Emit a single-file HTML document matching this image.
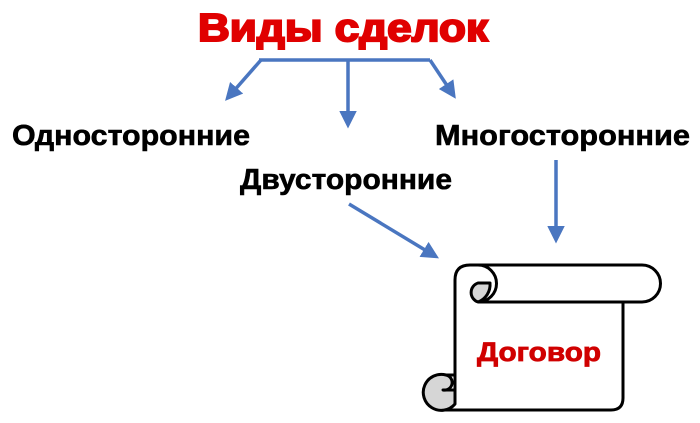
<!DOCTYPE html>
<html><head><meta charset="utf-8"><style>
html,body{margin:0;padding:0;background:#fff;}
svg{display:block;}
text{font-family:"Liberation Sans",Arial,sans-serif;font-weight:bold;}
</style></head><body>
<svg width="700" height="423" viewBox="0 0 700 423" xmlns="http://www.w3.org/2000/svg">
<defs>
<marker id="ah" markerWidth="5" markerHeight="5" refX="2" refY="2.5" orient="auto" markerUnits="strokeWidth">
<path d="M0,0 L5,2.5 L0,5 Z" fill="#4a76c0"/>
</marker>
</defs>
<text x="198" y="41" font-size="39" fill="#e00000" stroke="#e00000" stroke-width="2" textLength="290" lengthAdjust="spacingAndGlyphs">Виды сделок</text>
<text x="12" y="145" font-size="29" fill="#000" stroke="#000" stroke-width="0.6" textLength="238" lengthAdjust="spacingAndGlyphs">Односторонние</text>
<text x="435" y="145" font-size="29" fill="#000" stroke="#000" stroke-width="0.6" textLength="255" lengthAdjust="spacingAndGlyphs">Многосторонние</text>
<text x="240" y="189" font-size="29" fill="#000" stroke="#000" stroke-width="0.6" textLength="212" lengthAdjust="spacingAndGlyphs">Двусторонние</text>
<g stroke="#4a76c0" stroke-width="3.5" fill="none">
<path d="M259,60 L430,60"/>
<path d="M261,60 L232,93" marker-end="url(#ah)"/>
<path d="M348,60 L348,118" marker-end="url(#ah)"/>
<path d="M430,60 L450,90" marker-end="url(#ah)"/>
<path d="M349,204 L430,253" marker-end="url(#ah)"/>
<path d="M556,160 L556,233" marker-end="url(#ah)"/>
</g>
<g stroke="#000" stroke-width="3" fill="none" stroke-linejoin="round">
<path d="M455,395 L455,280 Q455,265 470,265 L642,265 A18.5,18.5 0 0 1 642,302 L623,302 L623,398 Q623,410 611,410 L445,410" fill="#fff"/>
<path d="M478,302 L623,302"/>
<path d="M478,265 A18.5,18.5 0 0 1 478,302" />
<path d="M478,302 A10,10 0 0 1 478,283 L490,283 A18.5,18.5 0 0 1 478,302 Z" fill="#d6d6d6"/>
<path d="M455,375 L446,375 A18,18 0 1 0 455,404 L455,390 L443,390 A6,6 0 0 0 446,375" fill="#d6d6d6"/>
<path d="M446,375 L455,375"/>
</g>
<text x="477" y="361" font-size="27" fill="#d00000" stroke="#d00000" stroke-width="0.8" textLength="124" lengthAdjust="spacingAndGlyphs">Договор</text>
</svg>
</body></html>
